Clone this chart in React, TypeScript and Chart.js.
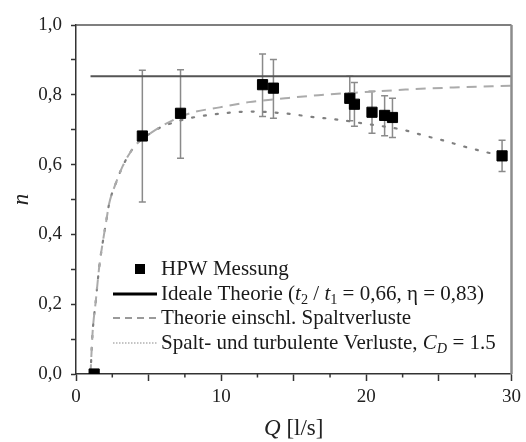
import React, { useEffect, useRef } from "react";
import { Chart, registerables } from "chart.js";
Chart.register(...registerables);

// ---- data ----
const xTickLabels = ["0", "10", "20", "30"];
const yTickLabels = ["0,0", "0,2", "0,4", "0,6", "0,8", "1,0"];

const measQ = [1.25, 4.57, 7.2, 12.85, 13.6, 18.86, 19.18, 20.39, 21.26, 21.8, 29.35];
const measN = [0.0, 0.682, 0.747, 0.829, 0.819, 0.79, 0.773, 0.75, 0.741, 0.735, 0.625];
const measLow = [0.0, 0.493, 0.618, 0.738, 0.733, 0.726, 0.71, 0.69, 0.683, 0.678, 0.58];
const measHigh = [0.0, 0.87, 0.872, 0.917, 0.901, 0.853, 0.835, 0.81, 0.797, 0.79, 0.67];

const idealQ = [1.0, 30];
const idealN = [0.853, 0.853];

const gapQ = [1.0, 1.14, 1.37, 1.6, 1.83, 2.06, 2.29, 2.74, 3.2, 3.77, 4.34, 5.14, 5.94, 6.86, 8.1, 9.9, 11.9, 14.4, 16.7, 20.4, 22.7, 26.0, 30.0];
const gapN = [0.0, 0.117, 0.212, 0.307, 0.374, 0.432, 0.489, 0.546, 0.594, 0.637, 0.666, 0.69, 0.711, 0.731, 0.75, 0.764, 0.779, 0.79, 0.799, 0.809, 0.815, 0.821, 0.826];

const turbQ = [1.0, 1.14, 1.37, 1.6, 1.83, 2.06, 2.29, 2.74, 3.2, 3.77, 4.34, 5.14, 5.94, 6.86, 7.7, 10.1, 12.16, 14.3, 16.4, 17.8, 19.8, 22.6, 23.9, 25.4, 26.8, 28.2, 29.3];
const turbN = [0.0, 0.117, 0.212, 0.307, 0.374, 0.432, 0.489, 0.546, 0.594, 0.637, 0.666, 0.69, 0.709, 0.722, 0.732, 0.747, 0.752, 0.747, 0.736, 0.73, 0.718, 0.699, 0.684, 0.668, 0.651, 0.636, 0.626];

type Seg = { t: string; it?: boolean; sub?: boolean };
const legendLabels: Seg[][] = [
  [{ t: "HPW Messung" }],
  [
    { t: "Ideale Theorie (" },
    { t: "t", it: true },
    { t: "2", sub: true },
    { t: " / " },
    { t: "t", it: true },
    { t: "1", sub: true },
    { t: " = 0,66, η = 0,83)" },
  ],
  [{ t: "Theorie einschl. Spaltverluste" }],
  [
    { t: "Spalt- und turbulente Verluste, " },
    { t: "C", it: true },
    { t: "D", it: true, sub: true },
    { t: " = 1.5" },
  ],
];

const SERIF = "'Liberation Serif', 'Times New Roman', 'DejaVu Serif', serif";

function drawRich(ctx: CanvasRenderingContext2D, x: number, y: number, segs: Seg[], size: number, sx = 1) {
  ctx.save();
  ctx.translate(x, y);
  ctx.scale(sx, 1);
  let cx = 0;
  ctx.textBaseline = "middle";
  ctx.textAlign = "left";
  for (const s of segs) {
    const fs = s.sub ? size * 0.68 : size;
    ctx.font = `${s.it ? "italic " : ""}${fs}px ${SERIF}`;
    const dy = s.sub ? size * 0.3 : 0;
    ctx.fillText(s.t, cx, dy);
    cx += ctx.measureText(s.t).width;
  }
  ctx.restore();
  return cx * sx;
}

const decor = {
  id: "decor",
  beforeDatasetsDraw(chart: any) {
    const { ctx, scales } = chart;
    const x = scales.x, y = scales.y;
    ctx.save();
    ctx.strokeStyle = "#8a8a8a";
    ctx.lineWidth = 1.5;
    measQ.forEach((q, i) => {
      if (measHigh[i] === measLow[i]) return;
      const px = x.getPixelForValue(q);
      const pt = y.getPixelForValue(measHigh[i]);
      const pb = y.getPixelForValue(measLow[i]);
      ctx.beginPath();
      ctx.moveTo(px, pt);
      ctx.lineTo(px, pb);
      ctx.moveTo(px - 3.5, pt);
      ctx.lineTo(px + 3.5, pt);
      ctx.moveTo(px - 3.5, pb);
      ctx.lineTo(px + 3.5, pb);
      ctx.stroke();
    });
    ctx.restore();
  },
  afterDraw(chart: any) {
    const { ctx, chartArea: a, scales } = chart;
    const x = scales.x;
    ctx.save();
    // frame top/right
    ctx.strokeStyle = "#555";
    ctx.lineWidth = 1.5;
    ctx.beginPath();
    ctx.moveTo(a.left, a.top);
    ctx.lineTo(a.right, a.top);
    ctx.stroke();
    ctx.strokeStyle = "#8c8c8c";
    ctx.lineWidth = 2.5;
    ctx.beginPath();
    ctx.moveTo(a.right, a.top);
    ctx.lineTo(a.right, a.bottom);
    ctx.stroke();
    // minor x ticks
    ctx.strokeStyle = "#333";
    ctx.lineWidth = 1.5;
    for (let v = 2.5; v < 30; v += 5) {
      const px = x.getPixelForValue(v);
      ctx.beginPath();
      ctx.moveTo(px, a.bottom);
      ctx.lineTo(px, a.bottom + 3.5);
      ctx.stroke();
    }
    // axis titles
    ctx.fillStyle = "#222";
    ctx.save();
    ctx.translate(22, (a.top + a.bottom) / 2);
    ctx.rotate(-Math.PI / 2);
    ctx.font = `italic 23px ${SERIF}`;
    ctx.textAlign = "center";
    ctx.textBaseline = "middle";
    ctx.fillText("n", 0, 0);
    ctx.restore();
    const xt: Seg[] = [{ t: "Q", it: true }, { t: " [l/s]" }];
    let w = 0;
    for (const s of xt) {
      ctx.font = `${s.it ? "italic " : ""}23px ${SERIF}`;
      w += ctx.measureText(s.t).width;
    }
    drawRich(ctx, (a.left + a.right) / 2 - w / 2, 429, xt, 23);
    // legend
    const rows = [269, 294, 318, 343];
    const sx0 = 113, sx1 = 157, tx = 161;
    ctx.fillStyle = "#000";
    ctx.fillRect(135, rows[0] - 5, 10, 10);
    ctx.strokeStyle = "#000";
    ctx.lineWidth = 3;
    ctx.beginPath();
    ctx.moveTo(sx0, rows[1]);
    ctx.lineTo(sx1, rows[1]);
    ctx.stroke();
    ctx.strokeStyle = "#9a9a9a";
    ctx.lineWidth = 2;
    ctx.setLineDash([7, 5]);
    ctx.beginPath();
    ctx.moveTo(sx0, rows[2]);
    ctx.lineTo(sx1, rows[2]);
    ctx.stroke();
    ctx.strokeStyle = "#8a8a8a";
    ctx.lineWidth = 1.2;
    ctx.setLineDash([1.5, 1.5]);
    ctx.beginPath();
    ctx.moveTo(sx0, rows[3]);
    ctx.lineTo(sx1, rows[3]);
    ctx.stroke();
    ctx.setLineDash([]);
    ctx.fillStyle = "#1a1a1a";
    legendLabels.forEach((segs, i) => drawRich(ctx, tx, rows[i], segs, 21, 1.0));
    ctx.restore();
  },
};

export default function App() {
  const ref = useRef<HTMLCanvasElement>(null);
  useEffect(() => {
    if (!ref.current) return;
    const tickFont = { family: SERIF, size: 19 };
    const chart = new Chart(ref.current, {
      type: "scatter",
      data: {
        datasets: [
          {
            label: "HPW Messung",
            data: measQ.map((q, i) => ({ x: q, y: measN[i] })),
            pointStyle: "rect",
            pointRadius: 7.2,
            backgroundColor: "#000",
            borderColor: "#000",
            borderWidth: 1,
            showLine: false,
            order: 0,
          },
          {
            label: "Ideale Theorie",
            data: idealQ.map((q, i) => ({ x: q, y: idealN[i] })),
            showLine: true,
            borderColor: "#555",
            borderWidth: 2,
            pointRadius: 0,
            order: 1,
          },
          {
            label: "Theorie einschl. Spaltverluste",
            data: gapQ.map((q, i) => ({ x: q, y: gapN[i] })),
            showLine: true,
            borderColor: "#ababab",
            borderWidth: 2,
            borderDash: [10, 7],
            pointRadius: 0,
            cubicInterpolationMode: "monotone",
            order: 2,
          },
          {
            label: "Spalt- und turbulente Verluste",
            data: turbQ.map((q, i) => ({ x: q, y: turbN[i] })),
            showLine: true,
            borderColor: "#808080",
            borderWidth: 2.2,
            borderDash: [2, 10],
            borderCapStyle: "round",
            pointRadius: 0,
            cubicInterpolationMode: "monotone",
            order: 3,
          },
        ],
      } as any,
      options: {
        animation: false,
        responsive: false,
        layout: { padding: { left: 0, top: 25, right: 12, bottom: 0 } },
        plugins: { legend: { display: false }, tooltip: { enabled: false } },
        scales: {
          x: {
            type: "linear",
            min: 0,
            max: 30,
            afterFit: (s: any) => {
              s.height = 68;
            },
            ticks: {
              stepSize: 2.5,
              autoSkip: false,
              maxRotation: 0,
              padding: 5,
              color: "#222",
              font: tickFont,
              callback: (_v: any, i: number) => (i % 4 === 0 ? xTickLabels[i / 4] : ""),
            },
            grid: {
              drawOnChartArea: false,
              tickLength: 7,
              tickWidth: 1.5,
              tickColor: (c: any) => (c.tick && Math.abs(c.tick.value % 5) < 1e-6 ? "#333" : "rgba(0,0,0,0)"),
            },
            border: { color: "#333", width: 1.5 },
          },
          y: {
            type: "linear",
            min: 0,
            max: 1,
            afterFit: (s: any) => {
              s.width = 76;
            },
            ticks: {
              stepSize: 0.1,
              autoSkip: false,
              padding: 9,
              color: "#222",
              font: tickFont,
              callback: (_v: any, i: number) => (i % 2 === 0 ? yTickLabels[i / 2] : ""),
            },
            grid: {
              drawOnChartArea: false,
              tickLength: 5,
              tickWidth: 1.5,
              tickColor: "#333",
            },
            border: { color: "#333", width: 1.5 },
          },
        },
      } as any,
      plugins: [decor],
    });
    return () => chart.destroy();
  }, []);
  return (
    <div style={{ position: "absolute", left: 0, top: 0, width: 526, height: 442, background: "#fff" }}>
      <canvas ref={ref} width={526} height={442} style={{ display: "block" }} />
    </div>
  );
}
